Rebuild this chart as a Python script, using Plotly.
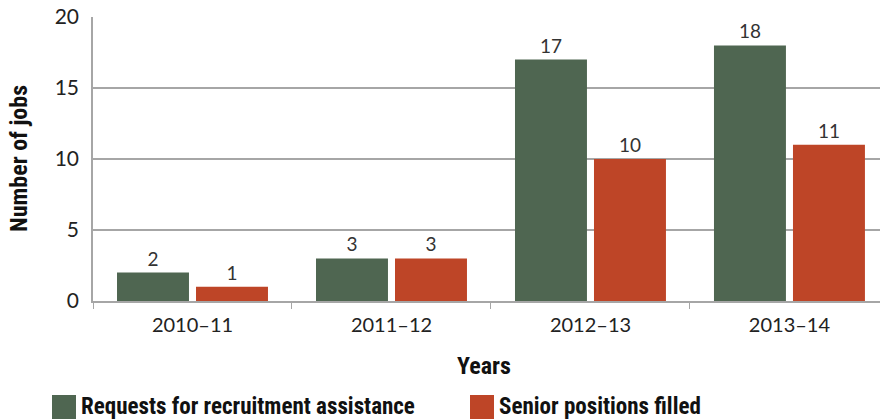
import plotly.graph_objects as go

years = ["2010–11", "2011–12", "2012–13", "2013–14"]
series_names = ["Requests for recruitment assistance", "Senior positions filled"]
requests = [2, 3, 17, 18]
filled = [1, 3, 10, 11]
colors = ["#4F6651", "#BE4527"]

num_font = "Lato, 'DejaVu Sans', sans-serif"
title_font = "'Liberation Sans Narrow', 'Roboto Condensed', 'Liberation Sans', sans-serif"

fig = go.Figure()
for name, vals, col in zip(series_names, [requests, filled], colors):
    fig.add_trace(go.Bar(
        x=years, y=vals, name=name, marker_color=col, marker_line_width=0,
        text=[str(v) for v in vals], textposition="outside", cliponaxis=False,
        textfont=dict(family=num_font, size=19, color="#333333"),
        showlegend=False,
    ))

fig.update_layout(
    width=880, height=420,
    margin=dict(l=93, r=0, t=17, b=119),
    paper_bgcolor="white", plot_bgcolor="white",
    barmode="group", bargap=0.206, bargroupgap=0.089,
    font=dict(family=num_font, color="#222222"),
)
fig.update_xaxes(
    range=[-0.5, 3.455], showline=True, linecolor="#A6A6A6", linewidth=1.5,
    ticks="outside", tickson="boundaries", ticklen=6, tickcolor="#A6A6A6",
    tickfont=dict(family=num_font, size=20, color="#222222"),
    ticklabelstandoff=5,
    showgrid=False,
)
fig.update_yaxes(
    range=[0, 20], dtick=5, showline=True, linecolor="#A6A6A6", linewidth=1.5,
    gridcolor="#A6A6A6", gridwidth=1.5, zeroline=False,
    tickfont=dict(family=num_font, size=21, color="#222222"),
    ticks="outside", ticklen=8, tickcolor="rgba(0,0,0,0)",
)

plot_w = 880 - 93
plot_h = 301 - 17


def px_x(px):
    return (px - 93) / plot_w


def px_y(py):
    return (301 - py) / plot_h


# axis titles
fig.add_annotation(text="<b>Number of jobs</b>", x=px_x(19), y=0.5,
                   xref="paper", yref="paper", xanchor="center", yanchor="middle",
                   showarrow=False, textangle=-90,
                   font=dict(family=title_font, size=24, color="#111111"))
fig.add_annotation(text="<b>Years</b>", x=px_x(484), y=px_y(366),
                   xref="paper", yref="paper", xanchor="center", yanchor="middle",
                   showarrow=False,
                   font=dict(family=title_font, size=24, color="#111111"))

# legend: swatch + label
legend_x = [52, 470]
for name, col, lx in zip(series_names, colors, legend_x):
    fig.add_shape(type="rect", xref="paper", yref="paper",
                  x0=px_x(lx), x1=px_x(lx + 24), y0=px_y(419), y1=px_y(395),
                  fillcolor=col, line_width=0)
    fig.add_annotation(text=f"<b>{name}</b>", xref="paper", yref="paper",
                       x=px_x(lx + 27), y=px_y(406),
                       xanchor="left", yanchor="middle", showarrow=False,
                       font=dict(family=title_font, size=23, color="#111111"))

fig.write_html("out.html")
